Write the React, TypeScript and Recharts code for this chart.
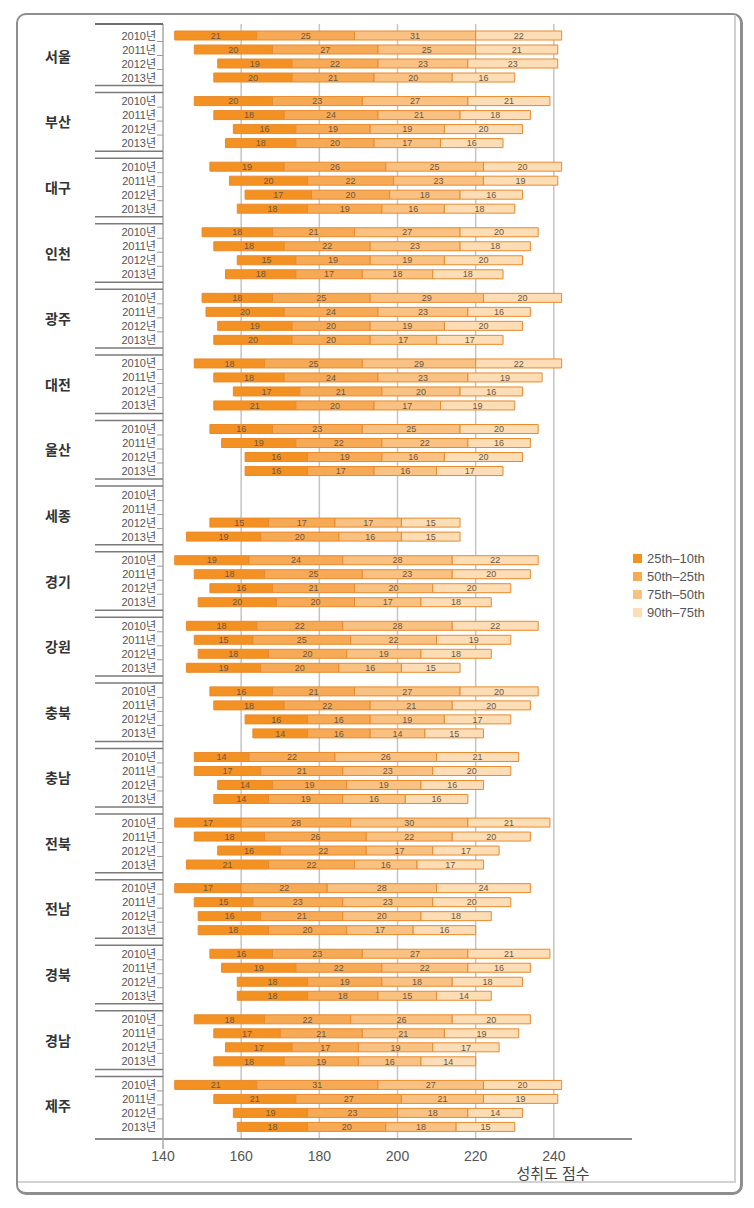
import { Bar, BarChart, CartesianGrid, LabelList, Legend, XAxis, YAxis } from "recharts";

const REGIONS = ["서울", "부산", "대구", "인천", "광주", "대전", "울산", "세종", "경기", "강원", "충북", "충남", "전북", "전남", "경북", "경남", "제주"];
const YEARS = ["2010년", "2011년", "2012년", "2013년"];
const SEGMENTS = ["25th–10th", "50th–25th", "75th–50th", "90th–75th"];
const COLORS = ["#F39222", "#F7AA55", "#F9C282", "#FCDDB5"];
const X_TICKS = [140, 160, 180, 200, 220, 240];

// 10th percentile score (where each bar starts), [region][year]
const P10 = [
  [143, 148, 154, 153], [148, 153, 158, 156], [152, 157, 161, 159], [150, 153, 159, 156],
  [150, 151, 154, 153], [148, 153, 158, 153], [152, 155, 161, 161], [null, null, 152, 146],
  [143, 148, 152, 149], [146, 148, 149, 146], [152, 153, 161, 163], [148, 148, 154, 153],
  [143, 148, 154, 146], [143, 148, 149, 149], [152, 155, 159, 159], [148, 153, 156, 153],
  [143, 153, 158, 159],
];
const D25_10 = [
  [21, 20, 19, 20], [20, 18, 16, 18], [19, 20, 17, 18], [18, 18, 15, 18],
  [18, 20, 19, 20], [18, 18, 17, 21], [16, 19, 16, 16], [null, null, 15, 19],
  [19, 18, 16, 20], [18, 15, 18, 19], [16, 18, 16, 14], [14, 17, 14, 14],
  [17, 18, 16, 21], [17, 15, 16, 18], [16, 19, 18, 18], [18, 17, 17, 18],
  [21, 21, 19, 18],
];
const D50_25 = [
  [25, 27, 22, 21], [23, 24, 19, 20], [26, 22, 20, 19], [21, 22, 19, 17],
  [25, 24, 20, 20], [25, 24, 21, 20], [23, 22, 19, 17], [null, null, 17, 20],
  [24, 25, 21, 20], [22, 25, 20, 20], [21, 22, 16, 16], [22, 21, 19, 19],
  [28, 26, 22, 22], [22, 23, 21, 20], [23, 22, 19, 18], [22, 21, 17, 19],
  [31, 27, 23, 20],
];
const D75_50 = [
  [31, 25, 23, 20], [27, 21, 19, 17], [25, 23, 18, 16], [27, 23, 19, 18],
  [29, 23, 19, 17], [29, 23, 20, 17], [25, 22, 16, 16], [null, null, 17, 16],
  [28, 23, 20, 17], [28, 22, 19, 16], [27, 21, 19, 14], [26, 23, 19, 16],
  [30, 22, 17, 16], [28, 23, 20, 17], [27, 22, 18, 15], [26, 21, 19, 16],
  [27, 21, 18, 18],
];
const D90_75 = [
  [22, 21, 23, 16], [21, 18, 20, 16], [20, 19, 16, 18], [20, 18, 20, 18],
  [20, 16, 20, 17], [22, 19, 16, 19], [20, 16, 20, 17], [null, null, 15, 15],
  [22, 20, 20, 18], [22, 19, 18, 15], [20, 20, 17, 15], [21, 20, 16, 16],
  [21, 20, 17, 17], [24, 20, 18, 16], [21, 16, 18, 14], [20, 19, 17, 14],
  [20, 19, 14, 15],
];

const GAPS = [D25_10, D50_25, D75_50, D90_75];
const KEYS = ["a", "b", "c", "d"];

const W = 754;
const H = 1208;
const MARGIN = { top: 24, right: 122, bottom: 29, left: 93 };
const X_AXIS_H = 40;
const BAR = 9;
const BAR_GAP = 5;
const FONT = "'Liberation Sans', 'Noto Sans CJK KR', sans-serif";

const rows = REGIONS.map((region, r) => {
  const row: Record<string, any> = { region };
  YEARS.forEach((_, y) => {
    row[`o${y}`] = P10[r][y];
    GAPS.forEach((g, s) => {
      row[`${KEYS[s]}${y}`] = g[r][y];
    });
  });
  return row;
});

const halfBandFallback = (H - MARGIN.top - MARGIN.bottom - X_AXIS_H) / REGIONS.length / 2;

const RegionTick = (props: any) => {
  const { x, y, payload, index } = props;
  const half = payload?.offset || halfBandFallback;
  const top = y - half;
  const groupH = YEARS.length * BAR + (YEARS.length - 1) * BAR_GAP;
  const first = top + Math.floor((half * 2 - groupH) / 2) + BAR / 2;
  return (
    <g>
      {index === 0 ? (
        <line x1={x - 68} x2={x} y1={top} y2={top} stroke="#6f6f6f" strokeWidth={2} />
      ) : (
        <>
          <line x1={x - 68} x2={x} y1={top - 4} y2={top - 4} stroke="#7a7a7a" strokeWidth={1.5} />
          <line x1={x - 68} x2={x} y1={top + 3} y2={top + 3} stroke="#7a7a7a" strokeWidth={1.5} />
        </>
      )}
      {index === REGIONS.length - 1 && (
        <>
          <line x1={x - 68} x2={x} y1={y + half} y2={y + half} stroke="#8a8a8a" strokeWidth={2} />
          <line x1={x} x2={x} y1={y + half} y2={y + half + 10} stroke="#a8a8a8" strokeWidth={1.5} />
        </>
      )}
      <text x={x - 105} y={y} textAnchor="middle" dominantBaseline="central" fontSize={14} fontWeight="bold" fill="#333" fontFamily={FONT}>
        {payload.value}
      </text>
      {YEARS.map((yr, i) => (
        <text key={yr} x={x - 7} y={first + i * (BAR + BAR_GAP)} textAnchor="end" dominantBaseline="central" fontSize={11} fill="#555" fontFamily={FONT}>
          {yr}
        </text>
      ))}
      {[0, 1, 2].map((i) => (
        <line key={i} x1={x - 6} x2={x} y1={first + i * (BAR + BAR_GAP) + 6} y2={first + i * (BAR + BAR_GAP) + 6} stroke="#999" strokeWidth={1} />
      ))}
    </g>
  );
};

const LegendBox = () => (
  <div style={{ fontFamily: FONT, fontSize: 13, color: "#555" }}>
    {SEGMENTS.map((s, i) => (
      <div key={s} style={{ display: "flex", alignItems: "center", height: 18 }}>
        <span style={{ display: "inline-block", width: 9, height: 9, background: COLORS[i], marginRight: 5 }} />
        <span>{s}</span>
      </div>
    ))}
  </div>
);

export default function App() {
  return (
    <div style={{ position: "absolute", left: 0, top: 0, width: W, height: H, background: "#fff", fontFamily: FONT }}>
      <div style={{ position: "absolute", left: 16, top: 13, width: 727, height: 1182, boxSizing: "border-box", border: "2px solid #8e8e8e", borderRightWidth: 3, borderBottomWidth: 3, borderRadius: 10 }} />
      <div style={{ position: "absolute", left: 18, top: 15, width: 718, height: 1168, boxSizing: "border-box", borderRight: "2px solid #d2d2d2", borderBottom: "2px solid #d2d2d2" }} />
      <div style={{ position: "absolute", left: 0, top: 0 }}>
        <BarChart width={W} height={H} data={rows} layout="vertical" margin={MARGIN} barGap={BAR_GAP} barSize={BAR}>
          <CartesianGrid horizontal={false} verticalValues={X_TICKS.slice(1)} stroke="#c4c4c4" strokeWidth={1.5} />
          <XAxis
            xAxisId="top"
            orientation="top"
            type="number"
            domain={[140, 260]}
            allowDataOverflow
            height={0}
            tick={false}
            tickLine={false}
            axisLine={{ stroke: "#6f6f6f", strokeWidth: 2 }}
          />
          <XAxis
            type="number"
            domain={[140, 260]}
            allowDataOverflow
            ticks={X_TICKS}
            height={X_AXIS_H}
            tickLine={false}
            axisLine={{ stroke: "#8a8a8a", strokeWidth: 2 }}
            tick={{ fontSize: 14, fill: "#555", fontFamily: FONT }}
            tickMargin={6}
          />
          <YAxis
            type="category"
            dataKey="region"
            width={70}
            interval={0}
            tickSize={0}
            tickMargin={0}
            tickLine={false}
            axisLine={{ stroke: "#a8a8a8", strokeWidth: 1.5 }}
            tick={<RegionTick />}
          />
          <Legend
            layout="vertical"
            align="center"
            verticalAlign="middle"
            wrapperStyle={{ left: 633, top: 549, width: 115 }}
            content={() => <LegendBox />}
          />
          {YEARS.flatMap((_, y) => [
            <Bar key={`o${y}`} dataKey={`o${y}`} stackId={`y${y}`} fill="transparent" legendType="none" isAnimationActive={false} />,
            ...KEYS.map((k, s) => (
              <Bar
                key={`${k}${y}`}
                dataKey={`${k}${y}`}
                stackId={`y${y}`}
                name={SEGMENTS[s]}
                fill={COLORS[s]}
                stroke="#E98A2C"
                strokeWidth={1}
                legendType={y === 0 ? "square" : "none"}
                isAnimationActive={false}
              >
                <LabelList dataKey={`${k}${y}`} position="center" fontSize={9} fill="#6b5642" fontFamily={FONT} />
              </Bar>
            )),
          ])}
        </BarChart>
      </div>
      <div style={{ position: "absolute", left: 508, top: 1162, width: 90, textAlign: "center", fontSize: 15, color: "#444" }}>
        성취도 점수
      </div>
    </div>
  );
}
